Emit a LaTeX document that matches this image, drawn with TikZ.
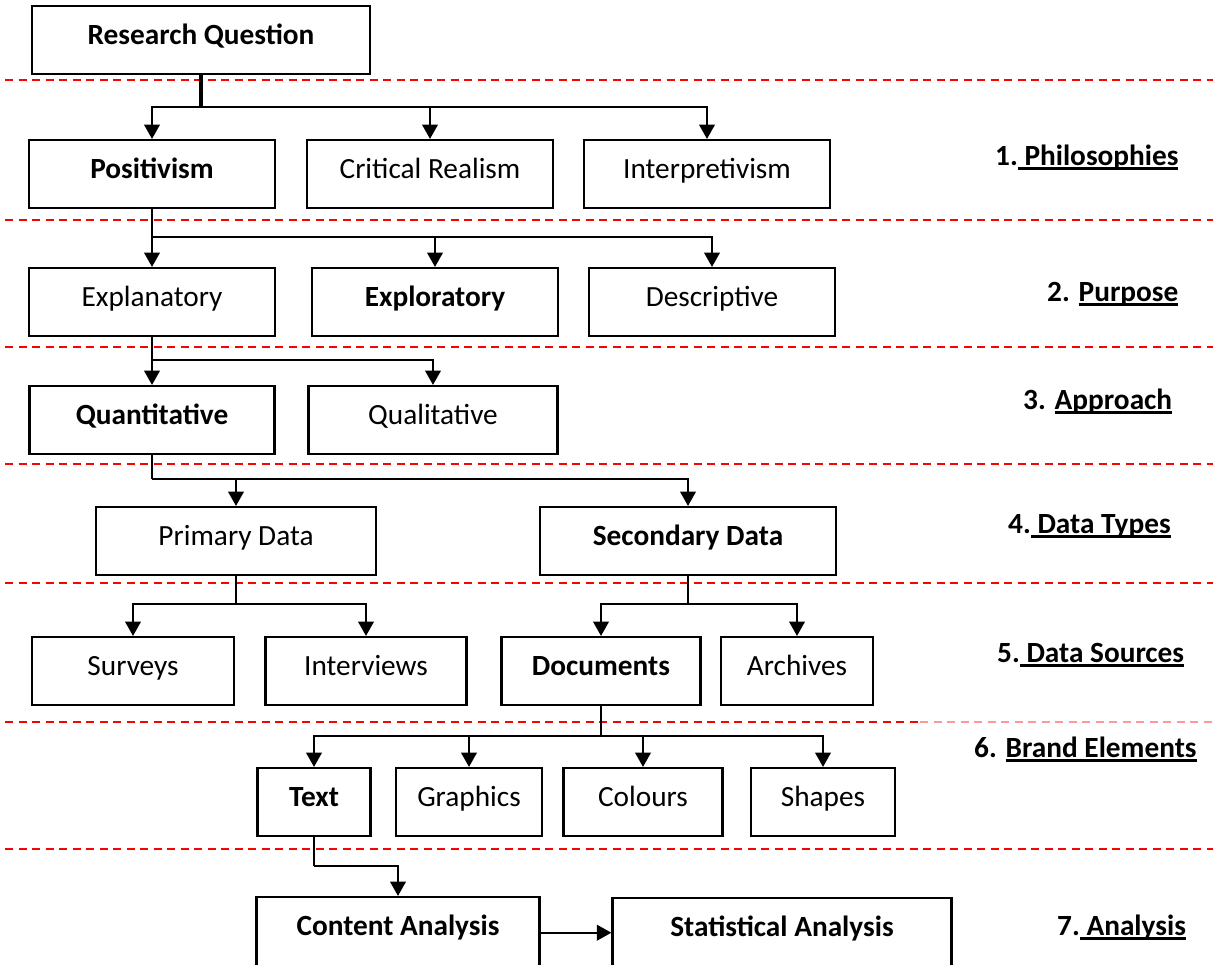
\documentclass[tikz,border=0pt]{standalone}
\usepackage{fontspec}
\setmainfont{Carlito}
\usetikzlibrary{arrows.meta}

% underline a run of text at a fixed distance below the baseline
\newcommand\ulpart[1]{\setbox0\hbox{#1}\rlap{\rule[-4.5pt]{\wd0}{2.2pt}}\box0}

\tikzset{
  box/.style={draw, line width=2.2pt, rectangle, anchor=north,
    inner xsep=0pt, inner ysep=0pt, text height=38pt, text depth=30pt,
    font=\fontsize{29.3pt}{34pt}\selectfont},
  bbox/.style={box, font=\fontsize{29.3pt}{34pt}\selectfont\bfseries},
  openbottom/.style={text depth=60pt},
  link/.style={line width=2.7pt},
  arrowed/.style={link, -{Triangle[width=15.5pt,length=14.5pt]}},
  rqstem/.style={line width=4.2pt},
  band/.style={red, line width=1.6pt, dash pattern=on 8pt off 5.5pt},
  stage/.style={anchor=base west, inner sep=0pt,
    font=\fontsize{29.3pt}{34pt}\selectfont\bfseries},
}

\begin{document}
\begin{tikzpicture}[x=1pt, y=-1pt]
\path[use as bounding box] (0,0) rectangle (1213,964);
\clip (0,0) rectangle (1213,964);

% stage separators
\foreach \yy in {80,220,347,464,583,849}
  \draw[band] (5,\yy) -- (1213,\yy);
\draw[band] (5,722) -- (920,722);
\draw[band, red!40, line width=1.2pt] (920,722) -- (1213,722);

% boxes
\node[bbox, minimum width=338pt] (rq) at (201,5) {Research Question};

\node[bbox, minimum width=246pt] (pos)    at (152,139) {Positivism};
\node[box,  minimum width=246pt] (crit)   at (430,139) {Critical Realism};
\node[box,  minimum width=246pt] (interp) at (707,139) {Interpretivism};

\node[box,  minimum width=246pt] (expl)   at (152,267) {Explanatory};
\node[bbox, minimum width=246pt] (explor) at (435,267) {Exploratory};
\node[box,  minimum width=246pt] (desc)   at (712,267) {Descriptive};

\node[bbox, minimum width=245pt] (quant)  at (152,385) {Quantitative};
\node[box,  minimum width=249pt] (qual)   at (433,385) {Qualitative};

\node[box,  minimum width=280pt] (prim)   at (236,506) {Primary Data};
\node[bbox, minimum width=296pt] (sec)    at (688,506) {Secondary Data};

\node[box,  minimum width=202pt] (surv)   at (133,636) {Surveys};
\node[box,  minimum width=201pt] (interv) at (366,636) {Interviews};
\node[bbox, minimum width=199pt] (docs)   at (601,636) {Documents};
\node[box,  minimum width=152pt] (arch)   at (797,636) {Archives};

\node[bbox, minimum width=113pt] (text)   at (314,767) {Text};
\node[box,  minimum width=146pt] (graph)  at (469,767) {Graphics};
\node[box,  minimum width=159pt] (col)    at (643,767) {Colours};
\node[box,  minimum width=144pt] (shp)    at (823,767) {Shapes};

\node[bbox, openbottom, minimum width=283pt] (content) at (398,896) {Content Analysis};
\node[bbox, openbottom, minimum width=339pt] (stat)    at (782,897) {Statistical Analysis};

% stage labels
\node[stage] (s1) at (995,165)  {1.\ulpart{\ Philosophies}};
\node[stage] (s2) at (1047,301) {2. \ulpart{Purpose}};
\node[stage] (s3) at (1023,409) {3. \ulpart{Approach}};
\node[stage] (s4) at (1008,533) {4.\ulpart{\ Data Types}};
\node[stage] (s5) at (997,662)  {5.\ulpart{\ Data Sources}};
\node[stage] (s6) at (974,757)  {6. \ulpart{Brand Elements}};
\node[stage] (s7) at (1057,935) {7.\ulpart{\ Analysis}};

% branching points
\coordinate (j1) at (201,107);
\coordinate (j2) at (152,237);
\coordinate (j3) at (152,360);
\coordinate (j4) at (152,479);
\coordinate (j5) at (236,604);
\coordinate (j6) at (688,604);
\coordinate (j7) at (601,736);
\coordinate (j8) at (314,866);

% connectors
\draw[rqstem] (rq.south) -- (j1);
\draw[arrowed] (j1) -| (pos.north);
\draw[arrowed] (j1) -| (crit.north);
\draw[arrowed] (j1) -| (interp.north);

\draw[link] (pos.south) -- (j2);
\draw[arrowed] (j2) -- (expl.north);
\draw[arrowed] (j2) -| (explor.north);
\draw[arrowed] (j2) -| (desc.north);

\draw[link] (expl.south) -- (j3);
\draw[arrowed] (j3) -- (quant.north);
\draw[arrowed] (j3) -| (qual.north);

\draw[link] (quant.south) -- (j4);
\draw[arrowed] (j4) -| (prim.north);
\draw[arrowed] (j4) -| (sec.north);

\draw[link] (prim.south) -- (j5);
\draw[arrowed] (j5) -| (surv.north);
\draw[arrowed] (j5) -| (interv.north);

\draw[link] (sec.south) -- (j6);
\draw[arrowed] (j6) -| (docs.north);
\draw[arrowed] (j6) -| (arch.north);

\draw[link] (docs.south) -- (j7);
\draw[arrowed] (j7) -| (text.north);
\draw[arrowed] (j7) -| (graph.north);
\draw[arrowed] (j7) -| (col.north);
\draw[arrowed] (j7) -| (shp.north);

\draw[link] (text.south) -- (j8);
\draw[arrowed] (j8) -| (content.north);

\draw[arrowed, line width=2.3pt] (content.mid east) -- (content.mid east -| stat.west);
\end{tikzpicture}
\end{document}
